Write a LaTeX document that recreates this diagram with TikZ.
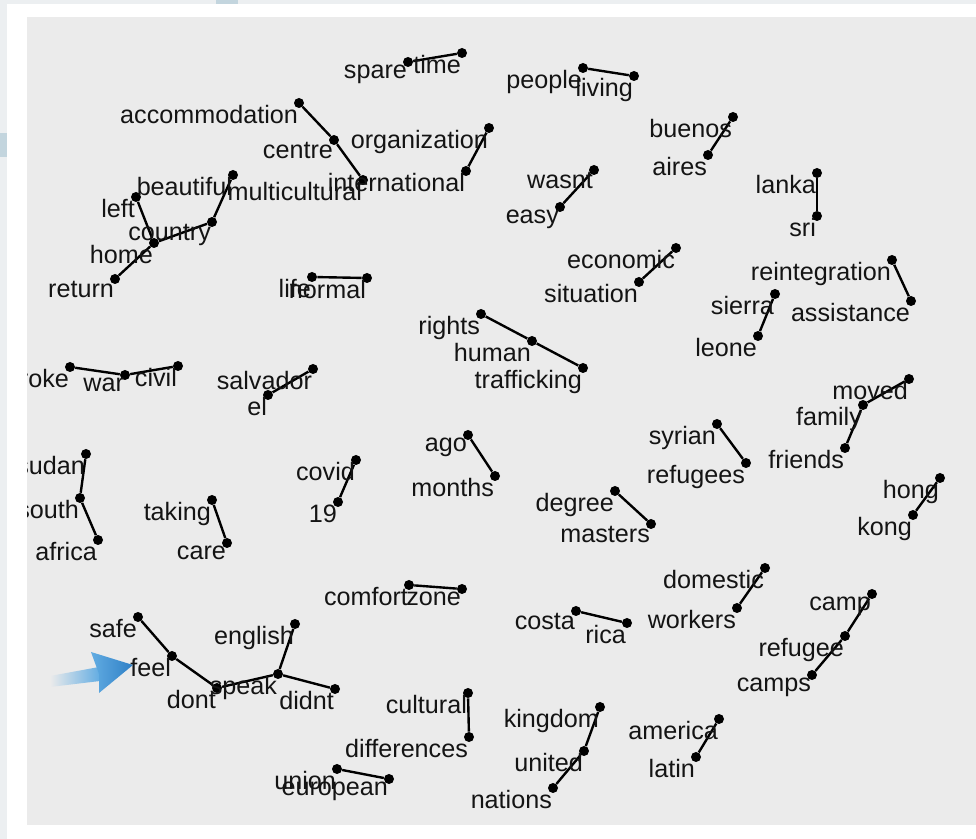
\documentclass[tikz,border=0pt]{standalone}
\usepackage{fontspec}
\setmainfont{Liberation Sans}
\usetikzlibrary{backgrounds}

\definecolor{panelgray}{HTML}{EBEBEB}
\definecolor{stripgray}{HTML}{ECEFF1}
\definecolor{stripblue}{HTML}{C3D5DE}
\definecolor{arrowblue}{HTML}{2F80C6}
\definecolor{arrowlight}{HTML}{62ACE2}
\definecolor{inkgray}{HTML}{141414}

\begin{document}
\begin{tikzpicture}[
        x=0.025cm, y=-0.025cm,
        dot/.style={
            circle,
            fill=black,
            inner sep=0pt,
            minimum size=0.25cm
        },
        word/.style={
            anchor=north east,
            inner sep=0pt,
            text=inkgray,
            font=\fontsize{17.9}{21}\selectfont,
            xshift=-0.02cm,
            yshift=-0.06cm
        },
        edge/.style={line width=1.7pt, black}
    ]

    \useasboundingbox (0,0) rectangle (976,839);

    % page frame and panel
    \begin{scope}[on background layer]
    \fill[stripgray] (0,0) rectangle (976,839);
    \fill[white] (7,4) rectangle (976,839);
    \fill[stripblue] (216,0) rectangle (238,4);
    \fill[stripblue] (0,133) rectangle (7,157);
    \fill[panelgray] (27,17) rectangle (976,825);
    \end{scope}

    \begin{scope}
    \clip (27,17) rectangle (976,825);

    \node[dot] (spare) at (408,62) {};
    \node[dot] (time) at (462,53) {};
    \node[dot] (people) at (583,68) {};
    \node[dot] (living) at (634,76) {};
    \node[dot] (accommodation) at (299,103) {};
    \node[dot] (centre) at (334,140) {};
    \node[dot] (multicultural) at (363,180) {};
    \node[dot] (organization) at (489,128) {};
    \node[dot] (international) at (466,171) {};
    \node[dot] (buenos) at (733,117) {};
    \node[dot] (aires) at (708,155) {};
    \node[dot] (wasnt) at (594,170) {};
    \node[dot] (easy) at (560,207) {};
    \node[dot] (lanka) at (817,173) {};
    \node[dot] (sri) at (817,216) {};
    \node[dot] (beautiful) at (233,175) {};
    \node[dot] (country) at (212,222) {};
    \node[dot] (left) at (136,197) {};
    \node[dot] (home) at (154,243) {};
    \node[dot] (return) at (115,279) {};
    \node[dot] (life) at (312,277) {};
    \node[dot] (normal) at (367,278) {};
    \node[dot] (economic) at (676,248) {};
    \node[dot] (situation) at (639,282) {};
    \node[dot] (reintegration) at (892,260) {};
    \node[dot] (assistance) at (911,301) {};
    \node[dot] (sierra) at (775,294) {};
    \node[dot] (leone) at (758,336) {};
    \node[dot] (rights) at (481,314) {};
    \node[dot] (human) at (532,341) {};
    \node[dot] (trafficking) at (583,368) {};
    \node[dot] (broke) at (70,367) {};
    \node[dot] (war) at (125,375) {};
    \node[dot] (civil) at (178,366) {};
    \node[dot] (salvador) at (313,369) {};
    \node[dot] (el) at (268,395) {};
    \node[dot] (moved) at (909,379) {};
    \node[dot] (family) at (863,405) {};
    \node[dot] (friends) at (845,448) {};
    \node[dot] (sudan) at (86,454) {};
    \node[dot] (south) at (80,498) {};
    \node[dot] (africa) at (98,540) {};
    \node[dot] (ago) at (468,435) {};
    \node[dot] (months) at (495,476) {};
    \node[dot] (syrian) at (717,424) {};
    \node[dot] (refugees) at (746,463) {};
    \node[dot] (covid) at (356,460) {};
    \node[dot] (n19) at (338,502) {};
    \node[dot] (taking) at (212,500) {};
    \node[dot] (care) at (227,543) {};
    \node[dot] (hong) at (940,478) {};
    \node[dot] (kong) at (913,515) {};
    \node[dot] (degree) at (615,491) {};
    \node[dot] (masters) at (651,524) {};
    \node[dot] (domestic) at (765,568) {};
    \node[dot] (workers) at (737,608) {};
    \node[dot] (comfort) at (409,585) {};
    \node[dot] (zone) at (462,589) {};
    \node[dot] (camp) at (872,594) {};
    \node[dot] (refugee) at (845,636) {};
    \node[dot] (camps) at (812,675) {};
    \node[dot] (costa) at (576,611) {};
    \node[dot] (rica) at (627,623) {};
    \node[dot] (safe) at (138,617) {};
    \node[dot] (feel) at (172,656) {};
    \node[dot] (dont) at (217,688) {};
    \node[dot] (speak) at (278,674) {};
    \node[dot] (english) at (295,624) {};
    \node[dot] (didnt) at (335,689) {};
    \node[dot] (cultural) at (468,693) {};
    \node[dot] (differences) at (469,737) {};
    \node[dot] (kingdom) at (600,707) {};
    \node[dot] (united) at (584,751) {};
    \node[dot] (nations) at (553,788) {};
    \node[dot] (america) at (719,719) {};
    \node[dot] (latin) at (696,757) {};
    \node[dot] (union) at (337,769) {};
    \node[dot] (european) at (389,779) {};

    % words hang below left of their dots
    \node[word] (spare-t) at (spare) {spare};
    \node[word] (time-t) at (time) {time};
    \node[word] (people-t) at (people) {people};
    \node[word] (living-t) at (living) {living};
    \node[word] (accommodation-t) at (accommodation) {accommodation};
    \node[word] (centre-t) at (centre) {centre};
    \node[word] (multicultural-t) at (multicultural) {multicultural};
    \node[word] (organization-t) at (organization) {organization};
    \node[word] (international-t) at (international) {international};
    \node[word] (buenos-t) at (buenos) {buenos};
    \node[word] (aires-t) at (aires) {aires};
    \node[word] (wasnt-t) at (wasnt) {wasnt};
    \node[word] (easy-t) at (easy) {easy};
    \node[word] (lanka-t) at (lanka) {lanka};
    \node[word] (sri-t) at (sri) {sri};
    \node[word] (beautiful-t) at (beautiful) {beautiful};
    \node[word] (country-t) at (country) {country};
    \node[word] (left-t) at (left) {left};
    \node[word] (home-t) at (home) {home};
    \node[word] (return-t) at (return) {return};
    \node[word] (life-t) at (life) {life};
    \node[word] (normal-t) at (normal) {normal};
    \node[word] (economic-t) at (economic) {economic};
    \node[word] (situation-t) at (situation) {situation};
    \node[word] (reintegration-t) at (reintegration) {reintegration};
    \node[word] (assistance-t) at (assistance) {assistance};
    \node[word] (sierra-t) at (sierra) {sierra};
    \node[word] (leone-t) at (leone) {leone};
    \node[word] (rights-t) at (rights) {rights};
    \node[word] (human-t) at (human) {human};
    \node[word] (trafficking-t) at (trafficking) {trafficking};
    \node[word] (broke-t) at (broke) {broke};
    \node[word] (war-t) at (war) {war};
    \node[word] (civil-t) at (civil) {civil};
    \node[word] (salvador-t) at (salvador) {salvador};
    \node[word] (el-t) at (el) {el};
    \node[word] (moved-t) at (moved) {moved};
    \node[word] (family-t) at (family) {family};
    \node[word] (friends-t) at (friends) {friends};
    \node[word] (sudan-t) at (sudan) {sudan};
    \node[word] (south-t) at (south) {south};
    \node[word] (africa-t) at (africa) {africa};
    \node[word] (ago-t) at (ago) {ago};
    \node[word] (months-t) at (months) {months};
    \node[word] (syrian-t) at (syrian) {syrian};
    \node[word] (refugees-t) at (refugees) {refugees};
    \node[word] (covid-t) at (covid) {covid};
    \node[word] (n19-t) at (n19) {19};
    \node[word] (taking-t) at (taking) {taking};
    \node[word] (care-t) at (care) {care};
    \node[word] (hong-t) at (hong) {hong};
    \node[word] (kong-t) at (kong) {kong};
    \node[word] (degree-t) at (degree) {degree};
    \node[word] (masters-t) at (masters) {masters};
    \node[word] (domestic-t) at (domestic) {domestic};
    \node[word] (workers-t) at (workers) {workers};
    \node[word] (comfort-t) at (comfort) {comfort};
    \node[word] (zone-t) at (zone) {zone};
    \node[word] (camp-t) at (camp) {camp};
    \node[word] (refugee-t) at (refugee) {refugee};
    \node[word] (camps-t) at (camps) {camps};
    \node[word] (costa-t) at (costa) {costa};
    \node[word] (rica-t) at (rica) {rica};
    \node[word] (safe-t) at (safe) {safe};
    \node[word] (feel-t) at (feel) {feel};
    \node[word] (dont-t) at (dont) {dont};
    \node[word] (speak-t) at (speak) {speak};
    \node[word] (english-t) at (english) {english};
    \node[word] (didnt-t) at (didnt) {didnt};
    \node[word] (cultural-t) at (cultural) {cultural};
    \node[word] (differences-t) at (differences) {differences};
    \node[word] (kingdom-t) at (kingdom) {kingdom};
    \node[word] (united-t) at (united) {united};
    \node[word] (nations-t) at (nations) {nations};
    \node[word] (america-t) at (america) {america};
    \node[word] (latin-t) at (latin) {latin};
    \node[word] (union-t) at (union) {union};
    \node[word] (european-t) at (european) {european};
    \end{scope}

    % edges go under the words
    \begin{scope}[on background layer]
    \draw[edge] (spare) -- (time);
    \draw[edge] (people) -- (living);
    \draw[edge] (accommodation) -- (centre) -- (multicultural);
    \draw[edge] (organization) -- (international);
    \draw[edge] (buenos) -- (aires);
    \draw[edge] (wasnt) -- (easy);
    \draw[edge] (lanka) -- (sri);
    \draw[edge] (beautiful) -- (country) -- (home);
    \draw[edge] (left) -- (home);
    \draw[edge] (home) -- (return);
    \draw[edge] (life) -- (normal);
    \draw[edge] (economic) -- (situation);
    \draw[edge] (reintegration) -- (assistance);
    \draw[edge] (sierra) -- (leone);
    \draw[edge] (rights) -- (human) -- (trafficking);
    \draw[edge] (broke) -- (war) -- (civil);
    \draw[edge] (salvador) -- (el);
    \draw[edge] (moved) -- (family) -- (friends);
    \draw[edge] (sudan) -- (south) -- (africa);
    \draw[edge] (ago) -- (months);
    \draw[edge] (syrian) -- (refugees);
    \draw[edge] (covid) -- (n19);
    \draw[edge] (taking) -- (care);
    \draw[edge] (hong) -- (kong);
    \draw[edge] (degree) -- (masters);
    \draw[edge] (domestic) -- (workers);
    \draw[edge] (comfort) -- (zone);
    \draw[edge] (camp) -- (refugee) -- (camps);
    \draw[edge] (costa) -- (rica);
    \draw[edge] (safe) -- (feel) -- (dont) -- (speak) -- (english);
    \draw[edge] (speak) -- (didnt);
    \draw[edge] (cultural) -- (differences);
    \draw[edge] (kingdom) -- (united) -- (nations);
    \draw[edge] (america) -- (latin);
    \draw[edge] (union) -- (european);
    \end{scope}

    % pointer to feel
    \shade[left color=panelgray, right color=arrowlight]
        (50,676) -- (99,667) -- (100,681) -- (50,687) -- cycle;
    \shade[left color=arrowlight, right color=arrowblue]
        (91,652) -- (133,665) -- (99,693) -- (99,674) -- cycle;

    \end{tikzpicture}
\end{document}
